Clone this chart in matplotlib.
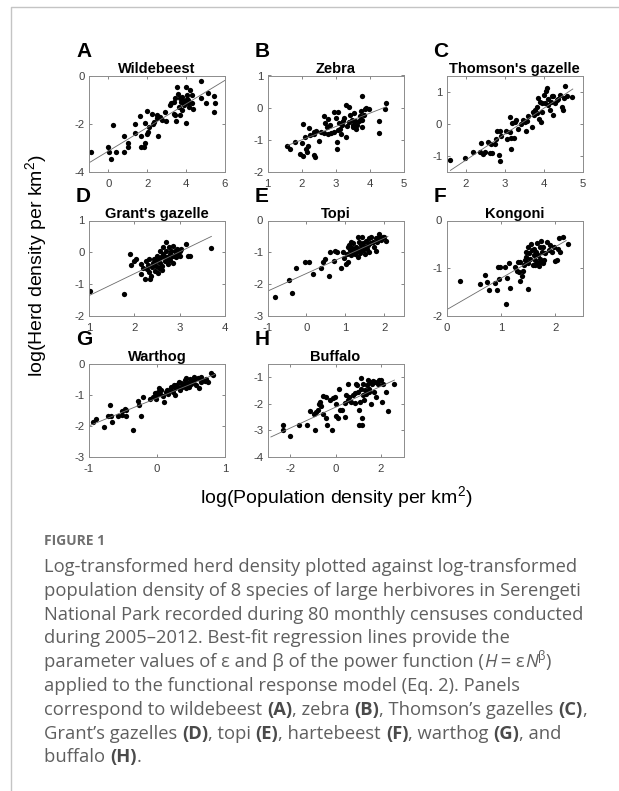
import matplotlib
matplotlib.use("Agg")
import matplotlib.pyplot as plt
from matplotlib.lines import Line2D

W, H = 619, 791

plt.rcParams["font.family"] = ["Liberation Sans", "DejaVu Sans"]
plt.rcParams["mathtext.fontset"] = "custom"
plt.rcParams["mathtext.rm"] = "Liberation Sans"
plt.rcParams["axes.unicode_minus"] = False

# ---- data ----
species = ["Wildebeest", "Zebra", "Thomson's gazelle", "Grant's gazelle",
           "Topi", "Kongoni", "Warthog", "Buffalo"]
letters = ["A", "B", "C", "D", "E", "F", "G", "H"]

wildebeest_x = [-0.9, 0, 0.05, 0.14, 0.23, 0.4, 0.78, 0.8, 1.0, 1.0, 1.36, 1.36, 1.62, 1.7, 1.67, 1.83, 1.88,
                1.88, 1.97, 2.0, 2.05, 2.1, 2.23, 2.28, 2.35, 2.49, 2.57, 2.52, 2.66, 2.75, 2.92, 2.97, 3.15,
                3.22, 3.36, 3.41, 3.44, 3.5, 3.53, 3.57, 3.62, 3.67, 3.74, 3.79, 3.84, 3.91, 3.97, 4.0, 4.02,
                4.05, 4.09, 4.14, 4.19, 4.28, 4.31, 4.37, 4.78, 4.75, 5.0, 5.1, 5.41, 5.48, 5.44, 3.79, 3.36,
                3.9, 3.7, 4.1]
wildebeest_y = [-3.18, -2.97, -3.18, -3.45, -2.05, -3.18, -2.5, -3.18, -2.97, -2.78, -2.37, -2.03, -1.67, -2.5,
                -2.97, -2.97, -1.96, -2.78, -1.48, -2.42, -2.33, -2.12, -1.6, -1.99, -1.92, -1.64, -2.5, -1.78,
                -1.71, -1.85, -1.51, -1.89, -1.23, -1.16, -1.1, -0.92, -1.64, -1.88, -0.48, -0.75, -1.3, -1.64,
                -1.1, -0.89, -1.14, -1.23, -1.95, -0.48, -0.82, -0.96, -1.16, -1.3, -0.62, -0.82, -1.14, -1.37,
                -0.21, -0.92, -1.16, -0.71, -0.85, -1.12, -1.53, -1.44, -1.58, -1.05, -0.95, -1.0]

zebra_x = [1.58, 1.66, 1.8, 2.0, 2.03, 1.95, 2.05, 2.09, 2.14, 2.16, 2.19, 2.22, 2.24, 2.36, 2.38, 2.38, 2.41,
           2.43, 2.51, 2.58, 2.65, 2.67, 2.7, 2.74, 2.77, 2.77, 2.84, 2.87, 2.97, 3.0, 2.97, 3.03, 3.06, 3.06,
           3.09, 3.03, 3.13, 3.16, 3.19, 3.23, 3.26, 3.3, 3.32, 3.35, 3.4, 3.4, 3.42, 3.48, 3.5, 3.52, 3.55,
           3.57, 3.6, 3.64, 3.69, 3.71, 3.74, 3.77, 3.79, 3.79, 3.84, 3.87, 3.89, 3.98, 4.27, 4.29, 4.47, 4.49]
zebra_y = [-1.19, -1.3, -1.06, -1.1, -0.52, -1.44, -1.5, -0.92, -1.3, -1.37, -1.19, -0.62, -0.86, -0.76, -0.81,
           -1.47, -1.52, -0.73, -1.03, -0.76, -0.25, -0.79, -0.49, -0.6, -0.36, -0.81, -0.54, -0.79, -0.14,
           -0.32, -0.76, -1.08, -0.14, -0.7, -0.49, -1.3, -0.65, -0.81, -0.54, -0.43, -0.32, 0.08, -0.9, -0.57,
           0.03, -0.46, -0.22, -0.38, -0.54, -0.6, -0.16, -0.43, -0.65, -0.54, -0.43, -0.27, -0.11, -0.38, -0.6,
           0.37, -0.22, -0.03, 0.0, -0.05, -0.43, -0.79, -0.05, 0.16]

thomson_x = [1.59, 1.97, 2.19, 2.37, 2.39, 2.45, 2.5, 2.56, 2.61, 2.65, 2.68, 2.74, 2.78, 2.8, 2.85, 2.87, 2.87,
             2.91, 3.02, 3.06, 3.13, 3.14, 3.17, 3.17, 3.19, 3.23, 3.26, 3.3, 3.34, 3.43, 3.47, 3.52, 3.54, 3.56,
             3.6, 3.69, 3.73, 3.75, 3.77, 3.82, 3.84, 3.86, 3.89, 3.9, 3.92, 3.95, 3.97, 4.01, 4.03, 4.06, 4.08,
             4.1, 4.12, 4.16, 4.18, 4.21, 4.25, 4.29, 4.34, 4.38, 4.42, 4.47, 4.49, 4.53, 4.55, 4.6, 4.73, 4.25]
thomson_y = [-1.13, -1.06, -0.87, -0.87, -0.61, -0.93, -0.87, -0.56, -0.9, -0.62, -0.9, -0.64, -0.48, -0.21,
             -0.98, -1.15, -0.24, -0.37, -0.21, -0.48, -0.27, 0.21, -0.45, -0.77, 0.02, -0.43, 0.05, 0.13, -0.16,
             0.0, 0.11, 0.05, -0.21, 0.07, 0.23, -0.09, 0.37, 0.27, 0.43, 0.32, 0.53, 0.8, 0.16, 0.69, 0.05, 0.64,
             0.37, 0.9, 0.64, 1.01, 1.12, 0.77, 0.59, 0.43, 0.69, 0.85, 0.27, 0.66, 0.74, 0.77, 0.9, 0.53, 0.43,
             0.8, 1.17, 0.85, 0.83, 0.85]

grant_x = [1.03, 1.77, 1.91, 1.92, 2.0, 2.04, 2.15, 2.23, 2.15, 2.19, 2.25, 2.28, 2.3, 2.32, 2.35, 2.37, 2.39,
           2.41, 2.45, 2.47, 2.48, 2.5, 2.52, 2.54, 2.56, 2.57, 2.59, 2.61, 2.63, 2.64, 2.67, 2.69, 2.7, 2.72,
           2.74, 2.76, 2.78, 2.79, 2.81, 2.83, 2.85, 2.86, 2.89, 2.91, 2.92, 2.94, 2.96, 2.98, 3.0, 3.01, 3.03,
           3.14, 3.18, 3.22, 3.69, 2.33, 2.43, 2.52, 2.6, 2.66, 2.73, 2.88]
grant_y = [-1.22, -1.31, -0.05, -0.39, -0.27, -0.21, -0.69, -0.85, -0.37, -0.48, -0.27, -0.53, -0.39, -0.61,
           -0.85, -0.74, -0.46, -0.32, -0.59, -0.43, -0.27, -0.11, -0.64, -0.48, 0.05, -0.32, -0.16, -0.43, 0.16,
           -0.05, -0.27, 0.32, 0.05, -0.16, -0.37, 0.16, -0.05, -0.24, 0.05, -0.11, 0.21, -0.32, 0.05, -0.16,
           -0.03, 0.11, -0.05, 0.07, -0.11, 0.03, 0.11, 0.27, -0.11, -0.11, 0.13, -0.22, -0.2, -0.2, -0.55,
           -0.1, -0.2, -0.1]

topi_x = [-0.81, -0.44, -0.36, -0.26, -0.04, 0.07, 0.17, 0.38, 0.44, 0.47, 0.57, 0.62, 0.73, 0.79, 0.7, 0.9,
          0.94, 0.98, 1.03, 1.05, 1.07, 1.11, 1.13, 1.15, 1.15, 1.18, 1.2, 1.21, 1.24, 1.26, 1.28, 1.3, 1.32,
          1.35, 1.37, 1.38, 1.41, 1.44, 1.45, 1.47, 1.5, 1.52, 1.54, 1.56, 1.58, 1.61, 1.64, 1.67, 1.71, 1.75,
          1.78, 1.79, 1.82, 1.86, 1.88, 1.92, 1.97, 2.01, 2.05, 1.32, 1.62, 1.07]
topi_y = [-2.4, -1.87, -2.27, -1.48, -1.3, -1.3, -1.68, -1.48, -1.3, -1.2, -1.74, -0.99, -0.95, -0.99, -1.28,
          -1.48, -0.99, -1.17, -1.38, -1.04, -1.3, -0.77, -0.93, -0.67, -1.09, -0.85, -0.99, -0.72, -0.91, -1.04,
          -0.83, -0.95, -1.15, -0.67, -0.88, -1.02, -0.77, -0.53, -0.93, -0.7, -1.04, -0.83, -0.64, -0.91, -0.77,
          -0.99, -0.7, -0.51, -0.68, -0.83, -0.56, -0.95, -0.67, -0.51, -0.43, -0.6, -0.53, -0.51, -0.64, -0.51,
          -0.56, -0.83]

kongoni_x = [0.24, 0.62, 0.7, 0.74, 0.78, 0.89, 0.93, 0.95, 0.98, 0.96, 1.07, 1.11, 1.15, 1.17, 1.09, 1.26,
             1.29, 1.32, 1.34, 1.35, 1.36, 1.38, 1.4, 1.42, 1.44, 1.46, 1.47, 1.49, 1.49, 1.5, 1.52, 1.54, 1.55,
             1.57, 1.59, 1.6, 1.61, 1.63, 1.65, 1.66, 1.67, 1.69, 1.71, 1.72, 1.73, 1.75, 1.77, 1.78, 1.8, 1.81,
             1.85, 1.88, 1.91, 1.94, 1.97, 2.0, 2.03, 2.05, 2.06, 2.09, 2.14, 2.23, 1.72, 1.63, 1.7]
kongoni_y = [-1.26, -1.33, -1.15, -1.29, -1.46, -1.31, -1.46, -0.98, -0.98, -1.22, -0.98, -1.21, -0.89, -1.41,
             -1.75, -0.98, -1.05, -0.87, -1.07, -1.26, -0.86, -1.17, -1.05, -0.94, -0.83, -0.66, -0.76, -1.43,
             -0.9, -0.55, -0.69, -0.8, -0.49, -0.62, -0.94, -0.73, -0.59, -0.83, -0.66, -0.48, -0.9, -0.73, -0.55,
             -0.86, -0.42, -0.66, -0.9, -0.55, -0.83, -0.69, -0.44, -0.62, -0.52, -0.66, -0.55, -0.85, -0.83,
             -0.59, -0.37, -0.66, -0.34, -0.49, -0.8, -0.93, -0.95]

warthog_x = [-0.94, -0.9, -0.78, -0.72, -0.69, -0.67, -0.66, -0.57, -0.52, -0.51, -0.47, -0.45, -0.45, -0.36,
             -0.28, -0.26, -0.24, -0.2, -0.11, -0.06, -0.03, -0.02, -0.01, 0.01, 0.03, 0.04, 0.06, 0.09, 0.11,
             0.13, 0.15, 0.16, 0.19, 0.21, 0.23, 0.25, 0.26, 0.27, 0.28, 0.31, 0.32, 0.34, 0.36, 0.37, 0.39,
             0.41, 0.42, 0.43, 0.45, 0.47, 0.49, 0.5, 0.53, 0.55, 0.58, 0.6, 0.62, 0.64, 0.65, 0.67, 0.7, 0.72,
             0.75, 0.8, 0.83, 0.55, 0.43]
warthog_y = [-1.88, -1.77, -2.04, -1.69, -1.34, -1.69, -1.88, -1.69, -1.53, -1.66, -1.45, -1.69, -1.5, -2.12,
             -1.2, -1.34, -1.69, -1.07, -1.13, -1.07, -0.96, -1.13, -1.02, -0.91, -0.8, -0.99, -0.86, -1.05,
             -1.23, -0.91, -0.84, -0.99, -0.86, -0.75, -0.91, -0.68, -0.8, -1.02, -0.7, -0.75, -0.59, -0.86,
             -0.64, -0.77, -0.66, -0.54, -0.8, -0.7, -0.62, -0.75, -0.51, -0.66, -0.59, -0.54, -0.7, -0.48, -0.8,
             -0.59, -0.43, -0.54, -0.56, -0.51, -0.59, -0.32, -0.38, -0.43, -0.48]

buffalo_x = [-2.32, -2.32, -1.99, -1.61, -1.26, -1.14, -0.97, -0.92, -0.85, -0.78, -0.73, -0.67, -0.63, -0.56,
             -0.53, -0.44, -0.44, -0.38, -0.26, -0.15, -0.12, -0.04, 0.0, 0.03, 0.1, 0.15, 0.21, 0.29, 0.4, 0.44,
             0.47, 0.54, 0.56, 0.59, 0.69, 0.76, 0.84, 0.88, 0.91, 0.94, 0.98, 1.05, 1.05, 1.08, 1.13, 1.13,
             1.17, 1.17, 1.2, 1.23, 1.27, 1.32, 1.35, 1.38, 1.42, 1.47, 1.49, 1.52, 1.57, 1.61, 1.67, 1.71, 1.76,
             1.79, 1.86, 1.93, 2.0, 2.05, 2.08, 2.23, 2.3, 2.59]
buffalo_y = [-2.81, -2.98, -3.23, -2.81, -2.81, -2.28, -2.38, -2.98, -2.31, -2.23, -2.03, -1.94, -2.1, -2.38,
             -1.73, -1.75, -2.53, -2.81, -1.88, -2.98, -1.81, -1.75, -2.03, -2.48, -2.53, -1.44, -2.25, -2.25,
             -1.98, -2.5, -1.69, -1.28, -1.85, -1.75, -1.94, -1.69, -1.6, -1.98, -1.25, -1.31, -1.56, -2.25,
             -2.81, -1.94, -1.06, -1.44, -2.53, -2.81, -1.69, -1.25, -1.85, -1.5, -1.63, -1.31, -1.13, -1.44,
             -1.56, -1.19, -2.0, -1.25, -1.15, -1.56, -1.19, -1.75, -1.25, -1.1, -1.13, -1.94, -1.25, -1.56,
             -2.29, -1.28]

xs = [wildebeest_x, zebra_x, thomson_x, grant_x, topi_x, kongoni_x, warthog_x, buffalo_x]
ys = [wildebeest_y, zebra_y, thomson_y, grant_y, topi_y, kongoni_y, warthog_y, buffalo_y]

# regression line end points
fit_x = [[-1, 6], [1.6, 4.5], [1.6, 4.75], [1.0, 3.7], [-1.0, 2.1], [0.0, 2.2], [-1.0, 0.85], [-2.85, 2.6]]
fit_y = [[-3.62, -0.2], [-1.17, 0.03], [-1.45, 1.08], [-1.36, 0.5], [-2.22, -0.5], [-1.87, -0.42],
         [-2.0, -0.35], [-3.25, -1.12]]

xlims = [(-1, 6), (1, 5), (1.5, 5), (1, 4), (-1, 2.5), (0, 2.5), (-1, 1), (-3, 3)]
ylims = [(-4, 0), (-2, 1), (-1.5, 1.5), (-2, 1), (-3, 0), (-2, 0), (-3, 0), (-4, -0.5)]
xticks = [[0, 2, 4, 6], [1, 2, 3, 4, 5], [2, 3, 4, 5], [1, 2, 3, 4], [-1, 0, 1, 2], [0, 1, 2], [-1, 0, 1],
          [-2, 0, 2]]
yticks = [[-4, -2, 0], [-2, -1, 0, 1], [-1, 0, 1], [-2, -1, 0, 1], [-3, -2, -1, 0], [-2, -1, 0],
          [-3, -2, -1, 0], [-4, -3, -2, -1]]

fig = plt.figure(figsize=(W / 100, H / 100), dpi=100)

# layout in pixels
col_left = [89, 267.5, 446.5]
ax_w = 136
row_top = [75.5, 220.5, 363.5]
row_h = [96.5, 95.5, 93.5]

for i in range(8):
    r, c = divmod(i, 3)
    left = col_left[c]
    top = row_top[r]
    ax = fig.add_axes([left / W, 1 - (top + row_h[r]) / H, ax_w / W, row_h[r] / H])
    ax.plot(xs[i], ys[i], "o", color="black", ms=3.8, mec="black", mew=0)
    ax.plot(fit_x[i], fit_y[i], "-", color="#6b6b6b", lw=0.6)
    ax.set_xlim(xlims[i])
    ax.set_ylim(ylims[i])
    ax.set_xticks(xticks[i])
    ax.set_yticks(yticks[i])
    ax.tick_params(direction="in", top=True, right=True, length=2.5, width=0.5, color="#555555",
                   labelsize=8.2, labelcolor="#404040")
    ax.tick_params(axis="x", pad=5)
    ax.tick_params(axis="y", pad=3)
    for s in ax.spines.values():
        s.set_color("#8c8c8c")
        s.set_linewidth(0.7)
    ax.set_title(species[i], fontsize=10.5, fontweight="bold", pad=2)
    fig.text((left - 13) / W, 1 - (top - 24) / H, letters[i], fontsize=15, fontweight="bold",
             ha="left", va="center")

fig.text(37 / W, 1 - 266 / H, "log(Herd density per km$^2$)", rotation=90, fontsize=14,
         ha="center", va="center")
fig.text(336 / W, 1 - 498 / H, "log(Population density per km$^2$)", fontsize=14,
         ha="center", va="center")

# frame lines of the figure box
fig.add_artist(Line2D([11 / W, 11 / W, 1.0], [0.0, 1 - 7 / H, 1 - 7 / H], transform=fig.transFigure,
                      color="#c4c4c4", lw=1.0))

# ---- caption ----
cap_font = ["Open Sans", "DejaVu Sans"]
cap_size = 13.2
cap_color = "#5f5f5f"
renderer = fig.canvas.get_renderer()


def put_runs(x_px, y_px, runs):
    x = x_px
    for txt, kw in runs:
        style = dict(fontsize=cap_size, color=cap_color, family=cap_font, va="baseline", ha="left")
        dy = 0
        if kw == "b":
            style.update(fontweight="bold", color="#4a4a4a")
        elif kw == "i":
            style.update(style="italic")
        elif kw == "sup":
            style.update(fontsize=cap_size * 0.65)
            dy = -7
        t = fig.text(x / W, 1 - (y_px + dy) / H, txt, **style)
        bb = t.get_window_extent(renderer)
        x += bb.width


fig.text(44 / W, 1 - 545 / H, "FIGURE 1", fontsize=10, fontweight="bold", color="#707070",
         family=cap_font, ha="left", va="baseline")

cap_lines = [
    [("Log-transformed herd density plotted against log-transformed", "")],
    [("population density of 8 species of large herbivores in Serengeti", "")],
    [("National Park recorded during 80 monthly censuses conducted", "")],
    [("during 2005\u20132012. Best-fit regression lines provide the", "")],
    [("parameter values of \u03b5 and \u03b2 of the power function (", ""), ("H", "i"), (" = \u03b5", ""),
     ("N", "i"), ("\u03b2", "sup"), (")", "")],
    [("applied to the functional response model (Eq. 2). Panels", "")],
    [("correspond to wildebeest ", ""), ("(A)", "b"), (", zebra ", ""), ("(B)", "b"),
     (", Thomson\u2019s gazelles ", ""), ("(C)", "b"), (",", "")],
    [("Grant\u2019s gazelles ", ""), ("(D)", "b"), (", topi ", ""), ("(E)", "b"), (", hartebeest ", ""),
     ("(F)", "b"), (", warthog ", ""), ("(G)", "b"), (", and", "")],
    [("buffalo ", ""), ("(H)", "b"), (".", "")],
]
base0 = 572
for k, runs in enumerate(cap_lines):
    put_runs(44, base0 + k * 23.8, runs)

fig.savefig("out.png", dpi=100)
